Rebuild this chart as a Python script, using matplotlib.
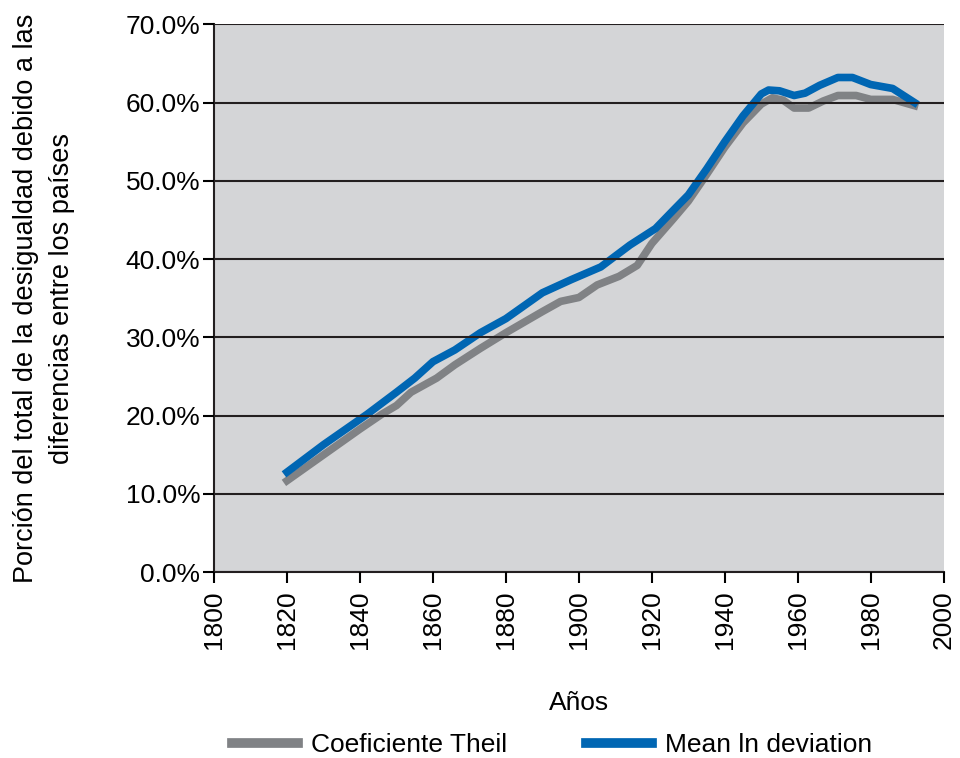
import matplotlib.pyplot as plt
from matplotlib.ticker import FuncFormatter

plt.rcParams['font.family'] = ['Liberation Sans', 'DejaVu Sans']

# Coeficiente Theil
years_theil = [1820, 1830, 1840, 1846, 1850, 1854, 1861, 1866, 1873, 1880, 1890, 1895,
               1900, 1905, 1911, 1916, 1920, 1926, 1930, 1935, 1940, 1945, 1950, 1953,
               1956, 1959, 1963, 1967, 1971, 1976, 1980, 1986, 1992]
theil = [11.7, 15.0, 18.3, 20.2, 21.3, 23.0, 24.8, 26.5, 28.6, 30.6, 33.3, 34.6,
         35.1, 36.7, 37.8, 39.2, 42.0, 45.2, 47.4, 50.8, 54.3, 57.4, 59.8, 60.6,
         60.3, 59.3, 59.3, 60.2, 60.9, 60.9, 60.4, 60.4, 59.6]

# Mean ln deviation
years_mld = [1820, 1830, 1842, 1850, 1855, 1860, 1866, 1873, 1880, 1890, 1898, 1906,
             1914, 1921, 1926, 1930, 1935, 1940, 1945, 1950, 1952, 1955, 1959, 1962,
             1966, 1971, 1975, 1980, 1986, 1992]
mld = [12.8, 16.3, 20.2, 23.0, 24.8, 26.9, 28.4, 30.6, 32.4, 35.7, 37.4, 39.0,
       41.8, 43.9, 46.3, 48.2, 51.5, 55.0, 58.3, 61.1, 61.6, 61.5, 60.9, 61.2,
       62.2, 63.2, 63.2, 62.3, 61.8, 60.0]

fig = plt.figure(figsize=(9.6, 7.58), dpi=100)
ax = fig.add_axes([0.223, 0.245, 0.76, 0.723])
ax.set_facecolor('#d4d5d7')

ax.plot(years_theil, theil, color='#808285', lw=5.5, label='Coeficiente Theil',
        solid_joinstyle='round')
ax.plot(years_mld, mld, color='#0066b3', lw=5.5, label='Mean ln deviation',
        solid_joinstyle='round')

ax.set_xlim(1800, 2000)
ax.set_ylim(0, 70)
ax.set_xticks(range(1800, 2001, 20))
ax.set_yticks(range(0, 71, 10))
ax.yaxis.set_major_formatter(FuncFormatter(lambda v, p: f'{v:.1f}%'))
ax.grid(axis='y', color='#231f20', lw=1.5)
ax.set_axisbelow(False)
for s in ['top', 'right']:
    ax.spines[s].set_visible(False)
for s in ['left', 'bottom']:
    ax.spines[s].set_color('#231f20')
    ax.spines[s].set_linewidth(1.5)
ax.tick_params(axis='x', labelrotation=90, labelsize=19, length=8, width=1.5, pad=5)
ax.tick_params(axis='y', labelsize=19, length=8, width=1.5, pad=2)

ax.set_xlabel('Años', fontsize=19, labelpad=30)
ax.set_ylabel('Porción del total de la desigualdad debido a las\ndiferencias entre los países',
              fontsize=19.5, labelpad=36, linespacing=1.5)

leg = fig.legend(loc='lower center', bbox_to_anchor=(0.575, -0.03), ncol=2, frameon=False,
                 fontsize=19, handlelength=2.5, columnspacing=3.0, handletextpad=0.5)
for h in leg.legend_handles:
    h.set_linewidth(7)

plt.savefig('out.png', dpi=100)
